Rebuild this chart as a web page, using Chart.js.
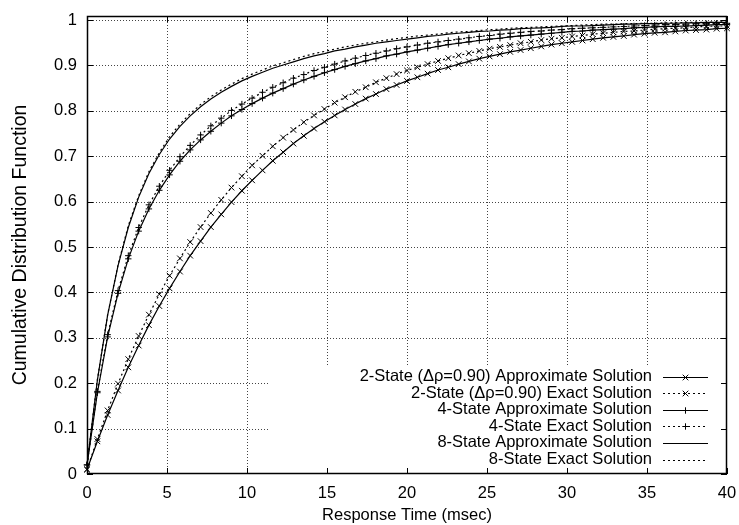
<!DOCTYPE html>
<html>
<head>
<meta charset="utf-8">
<script src="https://cdn.jsdelivr.net/npm/chart.js@4.4.0/dist/chart.umd.min.js"></script>
<style>
  body { margin: 0; background: #fff; }
  #wrap { width: 739px; height: 525px; }
</style>
</head>
<body>
<div id="wrap"><canvas id="cdf" width="739" height="525"></canvas></div>
<script>
// response time samples (msec)
var times = [0, 0.65, 1.29, 1.94, 2.58, 3.23, 3.87, 4.52, 5.16, 5.81,
  6.45, 7.10, 7.74, 8.39, 9.03, 9.68, 10.32, 10.97, 11.61, 12.26,
  12.90, 13.55, 14.19, 14.84, 15.48, 16.13, 16.77, 17.42, 18.06, 18.71,
  19.35, 20.00, 20.65, 21.29, 21.94, 22.58, 23.23, 23.87, 24.52, 25.16,
  25.81, 26.45, 27.10, 27.74, 28.39, 29.03, 29.68, 30.32, 30.97, 31.61,
  32.26, 32.90, 33.55, 34.19, 34.84, 35.48, 36.13, 36.77, 37.42, 38.06,
  38.71, 39.35, 40.00];

var twoApprox = [0.010, 0.072, 0.130, 0.184, 0.235, 0.283, 0.328, 0.370, 0.409, 0.446,
  0.481, 0.513, 0.544, 0.572, 0.599, 0.624, 0.647, 0.669, 0.690, 0.709,
  0.728, 0.745, 0.761, 0.776, 0.790, 0.803, 0.815, 0.827, 0.837, 0.848,
  0.857, 0.866, 0.874, 0.882, 0.890, 0.896, 0.903, 0.909, 0.915, 0.920,
  0.925, 0.930, 0.934, 0.938, 0.942, 0.946, 0.949, 0.952, 0.955, 0.958,
  0.961, 0.963, 0.965, 0.968, 0.970, 0.972, 0.973, 0.975, 0.977, 0.978,
  0.979, 0.981, 0.982];

var twoExact = [0.010, 0.077, 0.140, 0.199, 0.253, 0.304, 0.351, 0.396, 0.437, 0.475,
  0.511, 0.544, 0.575, 0.604, 0.631, 0.656, 0.680, 0.701, 0.722, 0.741,
  0.758, 0.775, 0.790, 0.804, 0.818, 0.830, 0.842, 0.852, 0.863, 0.872,
  0.881, 0.889, 0.896, 0.903, 0.910, 0.916, 0.922, 0.927, 0.932, 0.937,
  0.941, 0.945, 0.949, 0.952, 0.956, 0.959, 0.961, 0.964, 0.966, 0.969,
  0.971, 0.973, 0.975, 0.976, 0.978, 0.980, 0.981, 0.982, 0.983, 0.985,
  0.986, 0.987, 0.987];

var fourApprox = [0.020, 0.179, 0.302, 0.398, 0.474, 0.535, 0.584, 0.625, 0.659, 0.689,
  0.714, 0.736, 0.755, 0.773, 0.789, 0.803, 0.816, 0.828, 0.839, 0.849,
  0.859, 0.868, 0.876, 0.884, 0.891, 0.898, 0.904, 0.910, 0.915, 0.921,
  0.925, 0.930, 0.934, 0.938, 0.942, 0.946, 0.949, 0.952, 0.955, 0.958,
  0.960, 0.963, 0.965, 0.967, 0.969, 0.971, 0.973, 0.975, 0.976, 0.978,
  0.979, 0.980, 0.981, 0.983, 0.984, 0.985, 0.986, 0.986, 0.987, 0.988,
  0.989, 0.990, 0.990];

var fourExact = [0.020, 0.182, 0.307, 0.404, 0.481, 0.543, 0.593, 0.634, 0.669, 0.699,
  0.724, 0.747, 0.767, 0.784, 0.801, 0.815, 0.828, 0.841, 0.852, 0.862,
  0.872, 0.880, 0.889, 0.896, 0.903, 0.910, 0.916, 0.922, 0.927, 0.932,
  0.937, 0.941, 0.945, 0.949, 0.952, 0.955, 0.958, 0.961, 0.964, 0.966,
  0.969, 0.971, 0.973, 0.975, 0.976, 0.978, 0.979, 0.981, 0.982, 0.983,
  0.984, 0.985, 0.986, 0.987, 0.988, 0.989, 0.990, 0.990, 0.991, 0.992,
  0.992, 0.993, 0.993];

var eightApprox = [0.020, 0.207, 0.350, 0.459, 0.543, 0.610, 0.662, 0.704, 0.738, 0.766,
  0.789, 0.809, 0.826, 0.841, 0.854, 0.866, 0.876, 0.885, 0.894, 0.901,
  0.908, 0.915, 0.921, 0.926, 0.932, 0.936, 0.941, 0.945, 0.949, 0.952,
  0.955, 0.958, 0.961, 0.964, 0.966, 0.969, 0.971, 0.973, 0.975, 0.976,
  0.978, 0.979, 0.981, 0.982, 0.983, 0.984, 0.986, 0.987, 0.987, 0.988,
  0.989, 0.990, 0.991, 0.991, 0.992, 0.992, 0.993, 0.993, 0.994, 0.994,
  0.995, 0.995, 0.995];

var eightExact = [0.020, 0.208, 0.351, 0.461, 0.547, 0.613, 0.666, 0.708, 0.743, 0.771,
  0.794, 0.814, 0.831, 0.846, 0.859, 0.871, 0.881, 0.890, 0.899, 0.906,
  0.913, 0.920, 0.926, 0.931, 0.936, 0.941, 0.945, 0.949, 0.952, 0.956,
  0.959, 0.962, 0.965, 0.967, 0.969, 0.972, 0.974, 0.975, 0.977, 0.979,
  0.980, 0.982, 0.983, 0.984, 0.985, 0.986, 0.987, 0.988, 0.989, 0.990,
  0.991, 0.991, 0.992, 0.992, 0.993, 0.993, 0.994, 0.994, 0.995, 0.995,
  0.995, 0.996, 0.996];

var seriesNames = [
  '2-State (\u0394\u03c1=0.90) Approximate Solution',
  '2-State (\u0394\u03c1=0.90) Exact Solution',
  '4-State Approximate Solution',
  '4-State Exact Solution',
  '8-State Approximate Solution',
  '8-State Exact Solution'
];

var xTicks = [0, 5, 10, 15, 20, 25, 30, 35, 40];
var yTicks = [0, 0.1, 0.2, 0.3, 0.4, 0.5, 0.6, 0.7, 0.8, 0.9, 1];

var FONT = "'Liberation Sans', Arial, Helvetica, sans-serif";
var DOTTED = [2, 3];

// line / marker look of each curve, same order as seriesNames
var looks = [
  { dash: [], marker: 'crossRot' },
  { dash: DOTTED, marker: 'crossRot' },
  { dash: [], marker: 'cross' },
  { dash: DOTTED, marker: 'cross' },
  { dash: [], marker: null },
  { dash: DOTTED, marker: null }
];

function toPoints(values) {
  return values.map(function (v, i) { return { x: times[i], y: v }; });
}

var allValues = [twoApprox, twoExact, fourApprox, fourExact, eightApprox, eightExact];

var datasets = allValues.map(function (vals, k) {
  var lk = looks[k];
  return {
    label: seriesNames[k],
    data: toPoints(vals),
    borderColor: '#000',
    borderWidth: 1.2,
    borderDash: lk.dash,
    pointStyle: lk.marker || 'circle',
    pointRadius: lk.marker === 'crossRot' ? 4 : (lk.marker ? 3.2 : 0),
    pointBorderColor: '#000',
    pointBorderWidth: 1,
    pointHoverRadius: 0,
    tension: 0,
    fill: false,
    clip: 5
  };
});

// gnuplot style key sits in the lower right; grid is kept out of its box
function keyBox(area) {
  return { left: area.right - 459, top: area.bottom - 109, right: area.right, bottom: area.bottom };
}

function drawMarker(ctx, kind, cx, cy) {
  ctx.beginPath();
  if (kind === 'crossRot') {
    var d = 2.8;
    ctx.moveTo(cx - d, cy - d); ctx.lineTo(cx + d, cy + d);
    ctx.moveTo(cx - d, cy + d); ctx.lineTo(cx + d, cy - d);
  } else if (kind === 'cross') {
    var e = 3.2;
    ctx.moveTo(cx - e, cy); ctx.lineTo(cx + e, cy);
    ctx.moveTo(cx, cy - e); ctx.lineTo(cx, cy + e);
  }
  ctx.stroke();
}

var gnuFrame = {
  id: 'gnuFrame',
  beforeDatasetsDraw: function (chart) {
    var ctx = chart.ctx, a = chart.chartArea;
    var xs = chart.scales.x, ys = chart.scales.y;
    var kb = keyBox(a);

    ctx.save();
    ctx.beginPath();
    ctx.rect(a.left, a.top, a.right - a.left, a.bottom - a.top);
    ctx.rect(kb.left, kb.top, kb.right - kb.left, kb.bottom - kb.top);
    ctx.clip('evenodd');
    ctx.strokeStyle = '#444';
    ctx.lineWidth = 1;
    ctx.setLineDash([1, 2]);
    xTicks.forEach(function (v) {
      var px = Math.round(xs.getPixelForValue(v)) + 0.5;
      ctx.beginPath(); ctx.moveTo(px, a.top); ctx.lineTo(px, a.bottom); ctx.stroke();
    });
    yTicks.forEach(function (v) {
      var py = Math.round(ys.getPixelForValue(v)) + 0.5;
      ctx.beginPath(); ctx.moveTo(a.left, py); ctx.lineTo(a.right, py); ctx.stroke();
    });
    ctx.restore();

    // inward tick marks on all four sides
    ctx.save();
    ctx.strokeStyle = '#000';
    ctx.lineWidth = 1;
    var tl = 6;
    ctx.beginPath();
    xTicks.forEach(function (v) {
      var px = Math.round(xs.getPixelForValue(v)) + 0.5;
      ctx.moveTo(px, a.bottom); ctx.lineTo(px, a.bottom - tl);
      ctx.moveTo(px, a.top); ctx.lineTo(px, a.top + tl);
    });
    yTicks.forEach(function (v) {
      var py = Math.round(ys.getPixelForValue(v)) + 0.5;
      ctx.moveTo(a.left, py); ctx.lineTo(a.left + tl, py);
      ctx.moveTo(a.right, py); ctx.lineTo(a.right - tl, py);
    });
    ctx.stroke();
    ctx.restore();
  },
  afterDatasetsDraw: function (chart) {
    var ctx = chart.ctx, a = chart.chartArea;
    ctx.save();
    ctx.strokeStyle = '#000';
    ctx.lineWidth = 1.5;
    ctx.setLineDash([]);
    ctx.strokeRect(a.left + 0.5, a.top + 0.5, a.right - a.left - 1, a.bottom - a.top - 1);

    // key entries: text right aligned, then a sample of the line
    var textRight = a.right - 75;
    var sampleL = a.right - 64, sampleR = a.right - 19;
    var firstRow = a.bottom - 97.5, rowStep = 16.6;
    ctx.font = '16.5px ' + FONT;
    ctx.fillStyle = '#000';
    ctx.textAlign = 'right';
    ctx.textBaseline = 'middle';
    seriesNames.forEach(function (name, k) {
      var y = firstRow + k * rowStep;
      ctx.fillText(name, textRight, y);
      ctx.lineWidth = 1.2;
      ctx.setLineDash(looks[k].dash);
      ctx.beginPath();
      ctx.moveTo(sampleL, Math.round(y) + 0.5);
      ctx.lineTo(sampleR, Math.round(y) + 0.5);
      ctx.stroke();
      ctx.setLineDash([]);
      ctx.lineWidth = 1;
      if (looks[k].marker) drawMarker(ctx, looks[k].marker, (sampleL + sampleR) / 2, Math.round(y) + 0.5);
    });
    ctx.restore();
  }
};

new Chart(document.getElementById('cdf'), {
  type: 'line',
  data: { datasets: datasets },
  plugins: [gnuFrame],
  options: {
    responsive: false,
    devicePixelRatio: 1,
    animation: false,
    events: [],
    layout: { padding: { top: 16, right: 12, left: 0, bottom: 0 } },
    plugins: {
      legend: { display: false },
      tooltip: { enabled: false }
    },
    scales: {
      x: {
        type: 'linear',
        min: 0,
        max: 40,
        afterBuildTicks: function (axis) {
          axis.ticks = xTicks.map(function (v) { return { value: v }; });
        },
        afterFit: function (scale) {
          scale.height = 51;
          scale.paddingLeft = 0;
          scale.paddingRight = 0;
        },
        grid: { display: false, drawTicks: false },
        border: { display: false },
        ticks: {
          color: '#000',
          padding: 10,
          maxRotation: 0,
          autoSkip: false,
          font: { family: FONT, size: 16.5 },
          callback: function (v) { return String(v); }
        },
        title: {
          display: true,
          text: 'Response Time (msec)',
          color: '#000',
          font: { family: FONT, size: 16.5 },
          padding: { top: 0, bottom: 0 }
        }
      },
      y: {
        type: 'linear',
        min: 0,
        max: 1.009,
        afterBuildTicks: function (axis) {
          axis.ticks = yTicks.map(function (v) { return { value: v }; });
        },
        afterFit: function (scale) {
          scale.width = 87;
          scale.paddingTop = 0;
          scale.paddingBottom = 0;
        },
        grid: { display: false, drawTicks: false },
        border: { display: false },
        ticks: {
          color: '#000',
          padding: 10,
          font: { family: FONT, size: 16.5 },
          callback: function (v) { return String(Math.round(v * 10) / 10); }
        },
        title: {
          display: true,
          text: 'Cumulative Distribution Function',
          color: '#000',
          font: { family: FONT, size: 19.5 },
          padding: { top: 9, bottom: 0 }
        }
      }
    }
  }
});
</script>
</body>
</html>
